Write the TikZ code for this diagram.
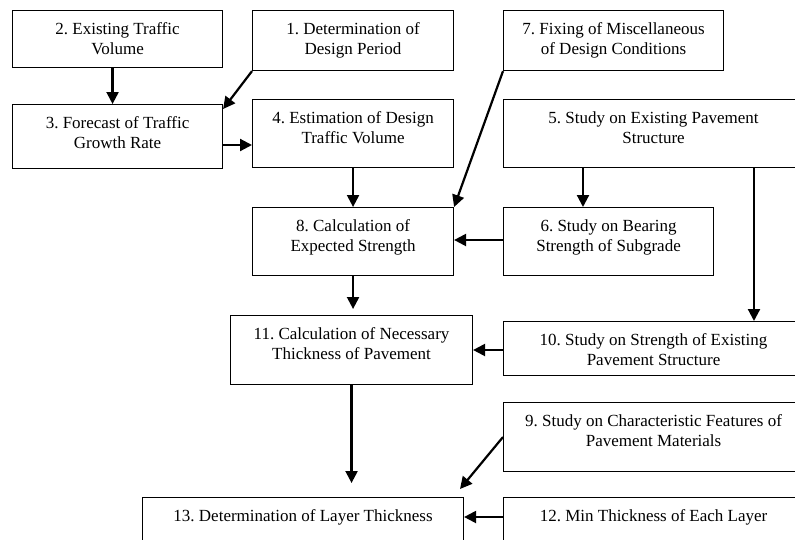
\documentclass[tikz,border=0pt]{standalone}
\usepackage{fontspec}
\setmainfont{Liberation Serif}
\frenchspacing
\usetikzlibrary{arrows.meta}
\tikzset{
  box/.style={draw, line width=1.1pt, inner sep=0pt, anchor=north west},
  txt/.style={anchor=north, align=center, inner sep=0pt, font=\fontsize{17}{20}\selectfont},
  arr/.style={line width=2.2pt, -{Triangle[length=12pt,width=12pt]}}
}
\newcommand\flowbox[6]{%
  \node[box, minimum width=#4pt-#2pt, minimum height=#5pt-#3pt] (#1) at (#2,#3) {};
  \node[txt] (t#1) at ([yshift=-12pt]#1.north) {#6};
}
\begin{document}
\begin{tikzpicture}[x=1pt,y=-1pt]
\useasboundingbox (0,0) rectangle (795,539);
\clip (0,0) rectangle (795,539);
\flowbox{b2}{12}{10}{222}{67}{2. Existing Traffic\\Volume}
\flowbox{b1}{252}{10}{453}{70}{1. Determination of\\Design Period}
\flowbox{b7}{503}{10}{723}{70}{7. Fixing of Miscellaneous\\of Design Conditions}
\flowbox{b3}{12}{104}{222}{168}{3. Forecast of Traffic\\Growth Rate}
\flowbox{b4}{252}{99}{453}{167}{4. Estimation of Design\\Traffic Volume}
\flowbox{b5}{503}{99}{803}{167}{5. Study on Existing Pavement\\Structure}
\flowbox{b8}{252}{207}{453}{275}{8. Calculation of\\Expected Strength}
\flowbox{b6}{503}{207}{713}{275}{6. Study on Bearing\\Strength of Subgrade}
\flowbox{b11}{230}{315}{472}{384}{11. Calculation of Necessary\\Thickness of Pavement}
\flowbox{b10}{503}{321}{803}{375}{10. Study on Strength of Existing\\Pavement Structure}
\flowbox{b9}{503}{402}{803}{471}{9. Study on Characteristic Features of\\Pavement Materials}
\flowbox{b13}{142}{497}{463}{560}{13. Determination of Layer Thickness}
\flowbox{b12}{503}{497}{803}{560}{12. Min Thickness of Each Layer}

\draw[arr] ([xshift=-5pt]b2.south) -- ([xshift=-5pt]b3.north);
\draw[arr] (b1.south west) -- ([yshift=-5pt]b3.north east);
\draw[arr] ([yshift=-41pt]b3.north east) -- ([yshift=-46pt]b4.north west);
\draw[arr] (b4.south) -- (b8.north);
\draw[arr] (b7.south west) -- (b8.north east);
\draw[arr] ([xshift=80pt]b5.south west) -- ([xshift=80pt]b6.north west);
\draw[arr] ([yshift=-33pt]b6.north west) -- ([yshift=-33pt]b8.north east);
\draw[arr] ([xshift=251pt]b5.south west) -- ([xshift=251pt]b10.north west);
\draw[arr, shorten >=6pt] (b8.south) -- (b8.south |- b11.north);
\draw[arr] ([yshift=-35pt]b11.north east -| b10.west) -- ([yshift=-35pt]b11.north east);
\draw[arr, shorten >=14pt] (b11.south) -- (b13.north -| b11.south);
\coordinate (c9) at (460,489);
\draw[arr] ([yshift=-35pt]b9.north west) -- (c9);
\draw[arr] ([yshift=-20pt]b12.north west) -- ([yshift=-20pt]b13.north east);
\end{tikzpicture}
\end{document}
